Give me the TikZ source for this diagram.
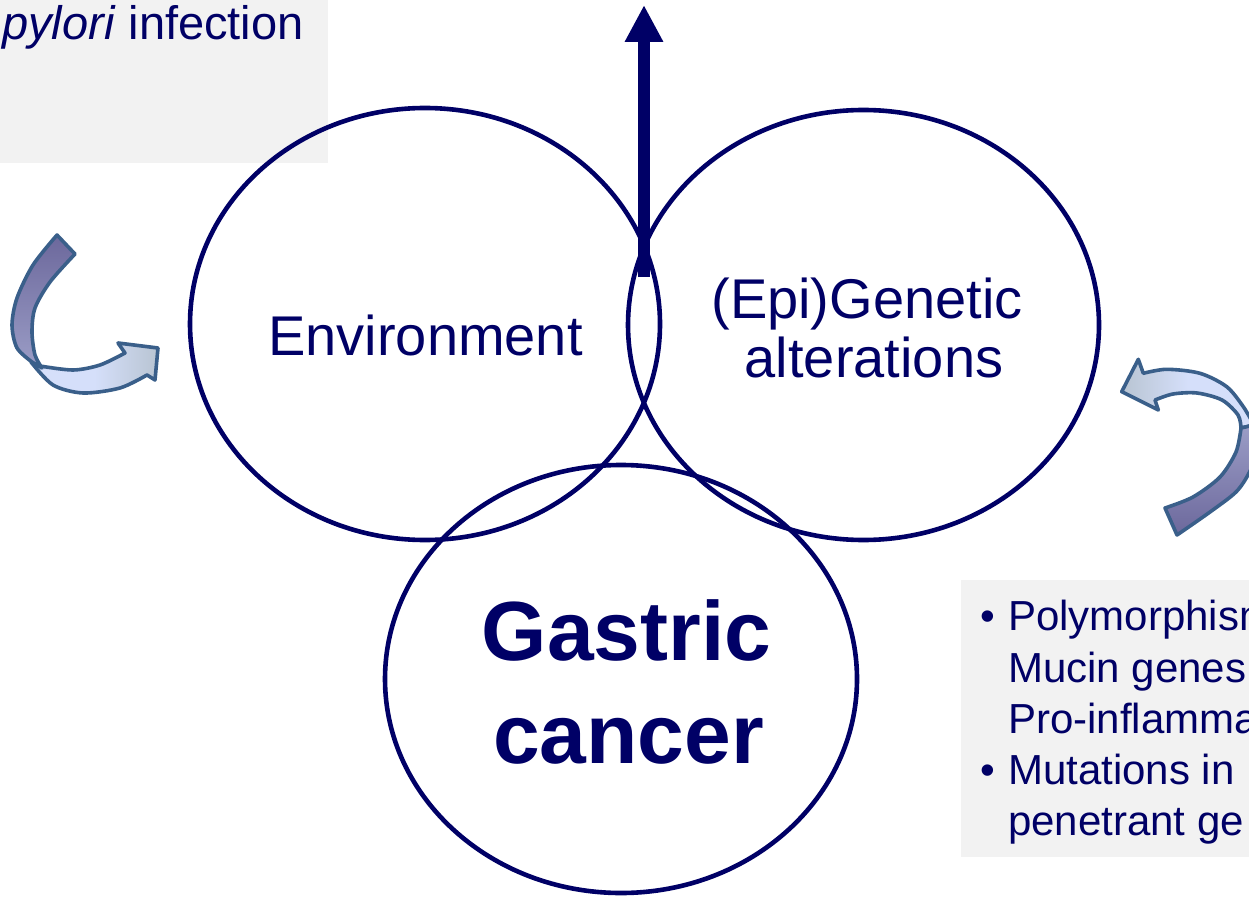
\documentclass[tikz,border=0pt]{standalone}
\usepackage{fontspec}
\setmainfont{Liberation Sans}
\usetikzlibrary{shapes.geometric,arrows.meta}
\definecolor{navy}{RGB}{0,0,102}
\definecolor{boxgray}{RGB}{242,242,242}
\definecolor{arrline}{RGB}{58,95,138}
\definecolor{arrdark}{RGB}{108,104,156}
\definecolor{arrmid}{RGB}{155,157,198}
\definecolor{arrlight}{RGB}{213,223,250}
\definecolor{arrtip}{RGB}{184,196,210}
\begin{document}
\begin{tikzpicture}[x=1pt,y=-1pt,
  venn/.style={ellipse, draw=navy, line width=4.6pt, inner sep=0pt},
  lbl/.style={text=navy, anchor=base, inner sep=0pt},
  lbll/.style={text=navy, anchor=base west, inner sep=0pt},
  graybox/.style={fill=boxgray, draw=none, inner sep=0pt, anchor=north west},
  curvar/.style={draw=arrline, line width=3.6pt, line join=round},
  bigarrow/.style={draw=navy, line width=12pt, -{Triangle[width=36pt,length=37pt]}},
  mid/.style={font=\fontsize{56}{60}\selectfont},
  big/.style={font=\fontsize{84}{90}\selectfont\bfseries},
  small/.style={font=\fontsize{42}{48}\selectfont},
  topt/.style={font=\fontsize{47}{52}\selectfont},
]
\useasboundingbox (0,0) rectangle (1249,901);
\clip (0,0) rectangle (1249,901);

% grey text boxes
\node[graybox, minimum width=328pt, minimum height=163pt] (hbox) at (0,0) {};
\node[graybox, minimum width=300pt, minimum height=277pt] (gbox) at (961,580) {};

% top-left text
\node[lbll, topt] (hpy) at (2,40) {\textit{pylori} infection};

% right box text
\node[lbl, small] (b1) at (988,630) {•};
\node[lbl, small] (b2) at (988,784) {•};
\node[lbll, small] (r1) at (1008,630) {Polymorphism};
\node[lbll, small] (r2) at (1008,682) {Mucin genes,};
\node[lbll, small] (r3) at (1008,733) {Pro-inflamma};
\node[lbll, small] (r4) at (1008,784) {Mutations in};
\node[lbll, small] (r5) at (1008,835) {penetrant ge};

% venn ellipses
\node[venn, minimum width=470pt, minimum height=432pt] (env) at (425,324) {};
\node[venn, minimum width=471pt, minimum height=430pt] (gen) at (863.5,325) {};
\node[venn, minimum width=472pt, minimum height=428pt] (gc) at (621,679) {};

% labels
\node[lbl, mid] (envt) at (425.5,355) {Environment};
\node[lbl, mid] (gent1) at (867,318) {(Epi)Genetic};
\node[lbl, mid] (gent2) at (874,377) {alterations};
\node[lbl, big] (gct1) at (626.5,660) {Gastric};
\node[lbl, big] (gct2) at (628.5,763) {cancer};

% upward arrow from the intersection
\coordinate (meet) at (644,277);
\coordinate (up) at (644,5);
\draw[bigarrow] (meet) -- (up);

% left curved arrow: light part then dark part
\path[curvar, left color=arrlight, right color=arrtip, middle color=arrlight]
  (40,366) -- plot[smooth] coordinates {(40,366) (73,370) (100,365) (125,353)}
  -- (118,343) -- (158,348) -- (155,380) -- (147,375)
  -- plot[smooth] coordinates {(147,375) (120,388) (83,393) (53,385) (31,362)}
  -- cycle;
\path[curvar, top color=arrdark, bottom color=arrmid]
  (57,235) -- (75,254)
  -- plot[smooth] coordinates {(75,254) (50,282) (35,308) (32,332) (35,355) (42,368)}
  -- (32,362)
  -- plot[smooth] coordinates {(32,362) (17,348) (12,325) (17,298) (33,265) (57,235)}
  -- cycle;

% right curved arrow: light part then dark part
\path[curvar, left color=arrtip, right color=arrlight, middle color=arrlight]
  (1121.7,391.7) -- (1138.3,359.3) -- (1143.3,373.3)
  -- plot[smooth] coordinates {(1143.3,373.3) (1166.7,369.3) (1200,373.3) (1226.7,386.7) (1243.3,406.7) (1254,425)}
  -- (1241,428)
  -- plot[smooth] coordinates {(1241,428) (1238,415) (1222,400) (1197,393) (1173,394) (1155,400)}
  -- (1158.3,410) -- cycle;
\path[curvar, top color=arrmid, bottom color=arrdark]
  (1254,425)
  -- plot[smooth] coordinates {(1254,425) (1258,450) (1249,473) (1236,492) (1210,512) (1177,535)}
  -- (1165,508)
  -- plot[smooth] coordinates {(1165,508) (1193,497) (1220,477) (1236,452) (1241,428)}
  -- cycle;
\end{tikzpicture}
\end{document}
